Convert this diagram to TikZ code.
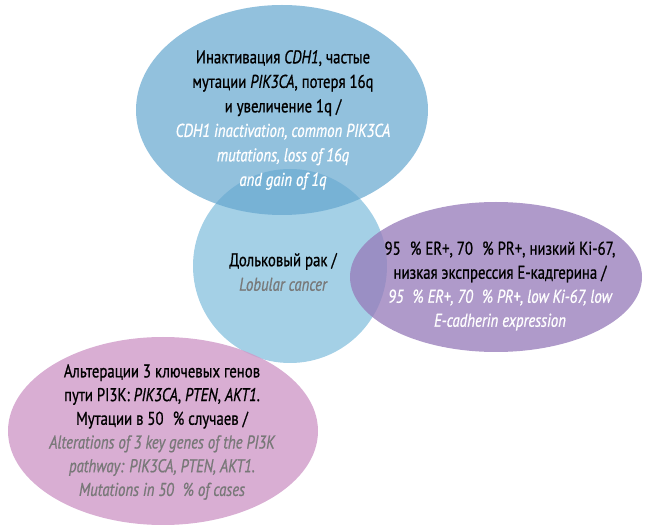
\documentclass[tikz,border=0pt]{standalone}
\usepackage{fontspec}
\setmainfont{PT Sans}[FakeStretch=0.8,FakeBold=0.8]
\definecolor{topblue}{RGB}{100,166,207}
\definecolor{circblue}{RGB}{164,208,230}
\definecolor{purp}{RGB}{151,124,186}
\definecolor{pinkc}{RGB}{208,155,201}
\definecolor{engray}{RGB}{120,120,120}
\begin{document}
\begin{tikzpicture}[x=1pt,y=-1pt,
  blob/.style={ellipse,inner sep=0pt,draw=none},
  txt/.style={align=center,font=\fontsize{18.5}{24.5}\selectfont,text=black,inner sep=0pt}
]
\usetikzlibrary{shapes.geometric}
\useasboundingbox (0,0) rectangle (646,529);
\node[circle,inner sep=0pt,minimum size=194pt,fill=circblue] (circ) at (290,266) {};
\node[blob,minimum width=292pt,minimum height=210pt,fill=topblue,fill opacity=0.7] (top) at (282,110) {};
\node[blob,minimum width=292pt,minimum height=150pt,fill=purp,fill opacity=0.77] (right) at (496,277) {};
\node[blob,minimum width=310pt,minimum height=188pt,fill=pinkc,fill opacity=0.81] (left) at (163,431) {};

\node[txt] (ttop) at (283,120) {Инактивация \textit{CDH1}, частые\\ мутации \textit{PIK3CA}, потеря 16q\\ и увеличение 1q /\\ \textcolor{white}{\itshape CDH1 inactivation, common PIK3CA}\\ \textcolor{white}{\itshape mutations, loss of 16q}\\ \textcolor{white}{\itshape and gain of 1q}};
\node[txt] (tcirc) at (283,272) {Дольковый рак /\\ \textcolor{engray}{\itshape Lobular cancer}};
\node[txt,font=\fontsize{18.5}{24}\selectfont] (tright) at (500,286) {95\hspace{0.5em}\% ER+, 70\hspace{0.5em}\% PR+, низкий Ki-67,\\ низкая экспрессия E-кадгерина /\\ \textcolor{white}{\itshape 95\hspace{0.5em}\% ER+, 70\hspace{0.5em}\% PR+, low Ki-67, low}\\ \textcolor{white}{\itshape E-cadherin expression}};
\node[txt,font=\fontsize{18.5}{23.7}\selectfont] (tleft) at (162,432) {Альтерации 3 ключевых генов\\ пути PI3K: \textit{PIK3CA}, \textit{PTEN}, \textit{AKT1}.\\ Мутации в 50\hspace{0.5em}\% случаев /\\ \textcolor{engray}{\itshape Alterations of 3 key genes of the PI3K}\\ \textcolor{engray}{\itshape pathway: PIK3CA, PTEN, AKT1.}\\ \textcolor{engray}{\itshape Mutations in 50\hspace{0.5em}\% of cases}};
\end{tikzpicture}
\end{document}
